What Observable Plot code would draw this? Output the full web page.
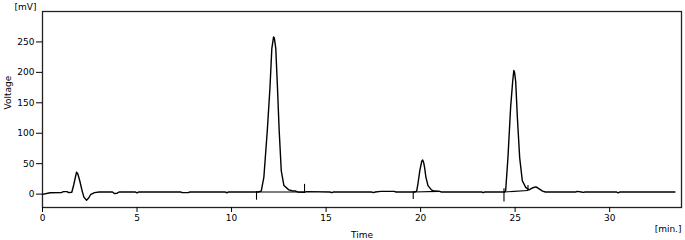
<!DOCTYPE html>
<html>
<head>
<meta charset="utf-8">
<script src="https://cdn.jsdelivr.net/npm/d3@7"></script>
<script src="https://cdn.jsdelivr.net/npm/@observablehq/plot@0.6"></script>
<style>
  html, body { margin: 0; padding: 0; background: #fff; }
  #chart svg { display: block; }
</style>
</head>
<body>
<div id="chart"></div>
<script>
// Signal (time in minutes, voltage in mV)
const time = [0, 0.4, 1.0, 1.1, 1.3, 1.38, 1.55, 1.65, 1.8, 1.87, 1.97, 2.1, 2.19, 2.33, 2.45, 2.54, 2.75, 3.0,
  3.7, 3.8, 3.95, 4.05, 4.9, 5.0, 5.1, 7.3, 7.4, 7.7, 7.8, 9.65, 9.75, 9.85,
  11.4, 11.57, 11.71, 11.89, 12.03, 12.13, 12.22, 12.26, 12.34, 12.43, 12.52, 12.63, 12.77, 13.03, 13.2, 13.39, 13.5,
  13.86, 13.95, 15.2, 15.3, 15.4, 17.4, 17.5, 17.6, 17.9, 18.6, 18.7,
  19.7, 19.79, 19.86, 19.96, 20.06, 20.11, 20.16, 20.21, 20.28, 20.39, 20.57, 20.71, 21.0, 21.1,
  23.25, 23.3, 23.4, 24.45, 24.5, 24.62, 24.76, 24.87, 24.93, 24.97, 25.03, 25.12, 25.24, 25.38, 25.56, 25.73,
  25.9, 26.1, 26.25, 26.45, 26.6, 28.2, 28.3, 28.5, 28.6, 28.7, 30.35, 30.45, 30.55, 33.45];
const voltage = [-0.5, 2.3, 2.5, 4, 4, 2.5, 3, 15, 36, 33, 22, 5, -5, -10, -6, -1, 2.5, 3.5,
  3.5, 1, 1.5, 3.5, 3.5, 2, 3.5, 3.5, 2.5, 2.5, 3.5, 3.5, 2.2, 3.5,
  3.5, 5, 28, 104, 174, 239, 258, 257, 239, 174, 104, 38, 14, 7, 5.5, 5, 3.5,
  3, 4, 3.5, 2.3, 3.5, 3.5, 2.5, 3.5, 4.5, 4.5, 3.5,
  3.5, 5, 17, 39, 54, 56, 52, 44, 28, 14, 7, 5, 4.5, 3.5,
  3.5, 2.3, 3.5, 3.5, 6, 60, 142, 185, 203, 200, 185, 125, 60, 22, 11, 7,
  10, 12, 9, 5, 3.5, 3.5, 4.5, 3.5, 2.8, 3.5, 3.5, 2, 3.5, 3.5];

// Integration markers (vertical ticks)
const markerTime = [11.32, 13.86, 19.61, 24.41, 25.68];
const markerLow  = [-10, 3, -9, -13, 5];
const markerHigh = [4, 16, 4, 9, 14];

// Integration baselines under peaks
const baseStartTime = [11.32, 19.61, 24.41];
const baseStartV    = [3.5, 3.5, 3.5];
const baseEndTime   = [13.86, 21.0, 25.68];
const baseEndV      = [3.5, 4.5, 6];

const xTicks = [0, 5, 10, 15, 20, 25, 30];
const yTicks = [0, 50, 100, 150, 200, 250];

const signal = time.map((t, i) => ({t, v: voltage[i]}));
const markers = markerTime.map((t, i) => ({t, lo: markerLow[i], hi: markerHigh[i]}));
const baselines = baseStartTime.map((t, i) => ({t1: t, v1: baseStartV[i], t2: baseEndTime[i], v2: baseEndV[i]}));

const chart = Plot.plot({
  width: 685,
  height: 240,
  marginLeft: 42,
  marginRight: 4,
  marginTop: 11,
  marginBottom: 33,
  style: {fontFamily: "DejaVu Sans", fontSize: "9px", color: "#000", background: "#fff"},
  x: {domain: [0, 33.8]},
  y: {domain: [-22, 300]},
  marks: [
    Plot.frame({stroke: "#222", strokeWidth: 1.3}),
    Plot.axisX({ticks: xTicks, tickSize: 5, tickPadding: 2, label: null, tickFormat: d3.format("d")}),
    Plot.axisY({ticks: yTicks, tickSize: 6, tickPadding: 2, label: null, tickFormat: d3.format("d")}),
    Plot.link(baselines, {x1: "t1", y1: "v1", x2: "t2", y2: "v2", stroke: "#000", strokeWidth: 1.1}),
    Plot.ruleX(markers, {x: "t", y1: "lo", y2: "hi", stroke: "#000", strokeWidth: 1.1}),
    Plot.line(signal, {x: "t", y: "v", stroke: "#000", strokeWidth: 1.4}),
    Plot.text(["[mV]"], {frameAnchor: "top-left", dx: -17, dy: -4, textAnchor: "middle", lineAnchor: "middle"}),
    Plot.text(["[min.]"], {frameAnchor: "bottom-right", dx: 0, dy: 22, textAnchor: "end", lineAnchor: "middle"}),
    Plot.text(["Time"], {frameAnchor: "bottom", dy: 28, lineAnchor: "middle"}),
    Plot.text(["Voltage"], {frameAnchor: "left", dx: -34, rotate: -90, lineAnchor: "middle"})
  ]
});
document.getElementById("chart").append(chart);
</script>
</body>
</html>
